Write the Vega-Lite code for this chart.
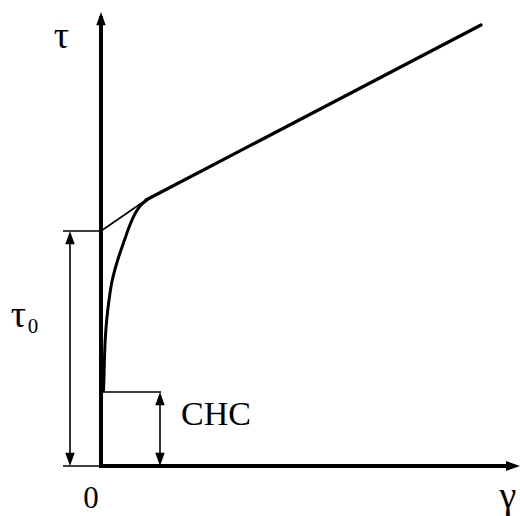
{
  "$schema": "https://vega.github.io/schema/vega-lite/v6.json",
  "width": 520,
  "height": 516,
  "padding": 0,
  "autosize": {"type": "none"},
  "background": "white",
  "config": {"view": {"stroke": null}},
  "datasets": {
    "thickRules": [
      {"x": 0, "y": -2, "x2": 0, "y2": 450},
      {"x": -2, "y": 0, "x2": 408, "y2": 0}
    ],
    "thinRules": [
      {"x": -38, "y": 235, "x2": 0, "y2": 235},
      {"x": -38, "y": 0, "x2": 0, "y2": 0},
      {"x": -31, "y": 4, "x2": -31, "y2": 231},
      {"x": 0, "y": 235, "x2": 45, "y2": 266},
      {"x": 2, "y": 74, "x2": 60, "y2": 74},
      {"x": 59, "y": 4, "x2": 59, "y2": 70}
    ],
    "bingham": [
      {"x": 45, "y": 266},
      {"x": 380, "y": 441}
    ],
    "curve": [
      {"x": 2.5, "y": 75},
      {"x": 3, "y": 90},
      {"x": 3.4, "y": 106},
      {"x": 4.2, "y": 126},
      {"x": 5.7, "y": 146},
      {"x": 8, "y": 166},
      {"x": 11.3, "y": 186},
      {"x": 16.7, "y": 206},
      {"x": 20, "y": 216},
      {"x": 23.5, "y": 226},
      {"x": 27, "y": 236},
      {"x": 31, "y": 246},
      {"x": 35, "y": 254},
      {"x": 40, "y": 261},
      {"x": 46, "y": 266}
    ],
    "arrowsUp": [
      {"x": 0, "y": 454},
      {"x": -31, "y": 235},
      {"x": 59, "y": 74}
    ],
    "arrowsDown": [
      {"x": -31, "y": 0},
      {"x": 59, "y": 0}
    ],
    "arrowsRight": [
      {"x": 419, "y": 0}
    ],
    "labelsLatin": [
      {"x": 115, "y": 51, "label": "CHC"}
    ],
    "labelsZero": [
      {"x": -10, "y": -33, "label": "0"}
    ],
    "labelsGreek": [
      {"x": -39.5, "y": 429, "label": "τ"},
      {"x": -82.5, "y": 150, "label": "τ"},
      {"x": 407, "y": -31, "label": "γ"}
    ],
    "labelsSub": [
      {"x": -68, "y": 139, "label": "0"}
    ]
  },
  "encoding": {
    "x": {"field": "x", "type": "quantitative", "scale": {"domain": [-101, 419], "nice": false, "zero": false}, "axis": null},
    "y": {"field": "y", "type": "quantitative", "scale": {"domain": [-50, 466], "nice": false, "zero": false}, "axis": null}
  },
  "layer": [
    {
      "data": {"name": "thickRules"},
      "mark": {"type": "rule", "color": "black", "strokeWidth": 4},
      "encoding": {"x2": {"field": "x2"}, "y2": {"field": "y2"}}
    },
    {
      "data": {"name": "thinRules"},
      "mark": {"type": "rule", "color": "black", "strokeWidth": 1.6},
      "encoding": {"x2": {"field": "x2"}, "y2": {"field": "y2"}}
    },
    {
      "data": {"name": "bingham"},
      "mark": {"type": "line", "color": "black", "strokeWidth": 3.2, "strokeCap": "round"},
      "encoding": {}
    },
    {
      "data": {"name": "curve"},
      "mark": {"type": "line", "color": "black", "strokeWidth": 3, "interpolate": "catmull-rom", "strokeCap": "round"},
      "encoding": {}
    },
    {
      "data": {"name": "arrowsUp"},
      "mark": {"type": "point", "filled": true, "color": "black", "opacity": 1, "size": 49, "strokeWidth": 0, "shape": "M0,0L-1.35,3.8L1.35,3.8Z"}
    },
    {
      "data": {"name": "arrowsDown"},
      "mark": {"type": "point", "filled": true, "color": "black", "opacity": 1, "size": 49, "strokeWidth": 0, "shape": "M0,0L-1.35,-3.8L1.35,-3.8Z"}
    },
    {
      "data": {"name": "arrowsRight"},
      "mark": {"type": "point", "filled": true, "color": "black", "opacity": 1, "size": 49, "strokeWidth": 0, "shape": "M0,0L-4,-1.4L-4,1.4Z"}
    },
    {
      "data": {"name": "labelsLatin"},
      "mark": {"type": "text", "font": "Liberation Serif", "fontSize": 34, "color": "black", "align": "center", "baseline": "middle"},
      "encoding": {"text": {"field": "label"}}
    },
    {
      "data": {"name": "labelsZero"},
      "mark": {"type": "text", "font": "Liberation Serif", "fontSize": 31, "color": "black", "align": "center", "baseline": "middle"},
      "encoding": {"text": {"field": "label"}}
    },
    {
      "data": {"name": "labelsGreek"},
      "mark": {"type": "text", "font": "Liberation Serif", "fontSize": 38, "color": "black", "align": "center", "baseline": "middle"},
      "encoding": {"text": {"field": "label"}}
    },
    {
      "data": {"name": "labelsSub"},
      "mark": {"type": "text", "font": "Liberation Serif", "fontSize": 21, "color": "black", "align": "center", "baseline": "middle"},
      "encoding": {"text": {"field": "label"}}
    }
  ]
}
